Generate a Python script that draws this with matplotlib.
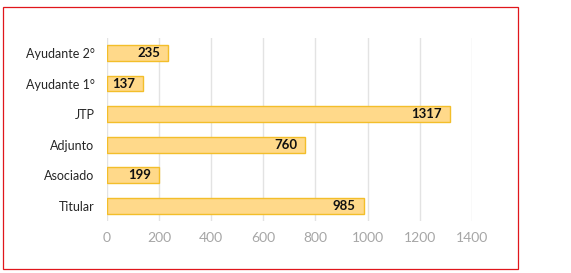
import matplotlib
matplotlib.use("Agg")
import matplotlib.pyplot as plt
from matplotlib.patches import Rectangle

categories = ["Titular", "Asociado", "Adjunto", "JTP", "Ayudante 1°", "Ayudante 2°"]
values = [985, 199, 760, 1317, 137, 235]
xticks = [0, 200, 400, 600, 800, 1000, 1200, 1400]

plt.rcParams['font.family'] = ['Lato', 'DejaVu Sans']

W, H = 571, 273
fig = plt.figure(figsize=(W/100, H/100), dpi=100)
fig.patch.set_facecolor('white')

# outer frame
fig.add_artist(Rectangle((3/W, 4/H), 515/W, 262/H, transform=fig.transFigure,
                         fill=False, edgecolor='#e0161b', linewidth=0.9))

ax = fig.add_axes([107/W, 1-221/H, 364.7/W, (221-37.7)/H])
y = list(range(len(categories)))
ax.barh(y, values, height=0.52, color='#FFD98A', edgecolor='#F3BE2A', linewidth=1.0, zorder=3)
for yi, v in zip(y, values):
    ax.text(v - 30, yi, str(v), ha='right', va='center', fontsize=9.5, fontweight='bold',
            color='#111111', zorder=4)

ax.set_xlim(0, 1400)
ax.set_ylim(-0.5, len(categories) - 0.5)
ax.set_xticks(xticks)
ax.set_xticklabels([str(t) for t in xticks])
ax.set_yticks(y)
ax.set_yticklabels(categories)
ax.grid(axis='x', color='#e3e3e3', linewidth=1.0, zorder=0)
ax.grid(axis='y', visible=False)
for s in ax.spines.values():
    s.set_visible(False)
ax.tick_params(axis='x', length=0, pad=8, labelsize=10, labelcolor='#a6a6a6')
ax.tick_params(axis='y', length=0, pad=9, labelsize=9, labelcolor='#262626')

fig.savefig('out.png', dpi=100)
